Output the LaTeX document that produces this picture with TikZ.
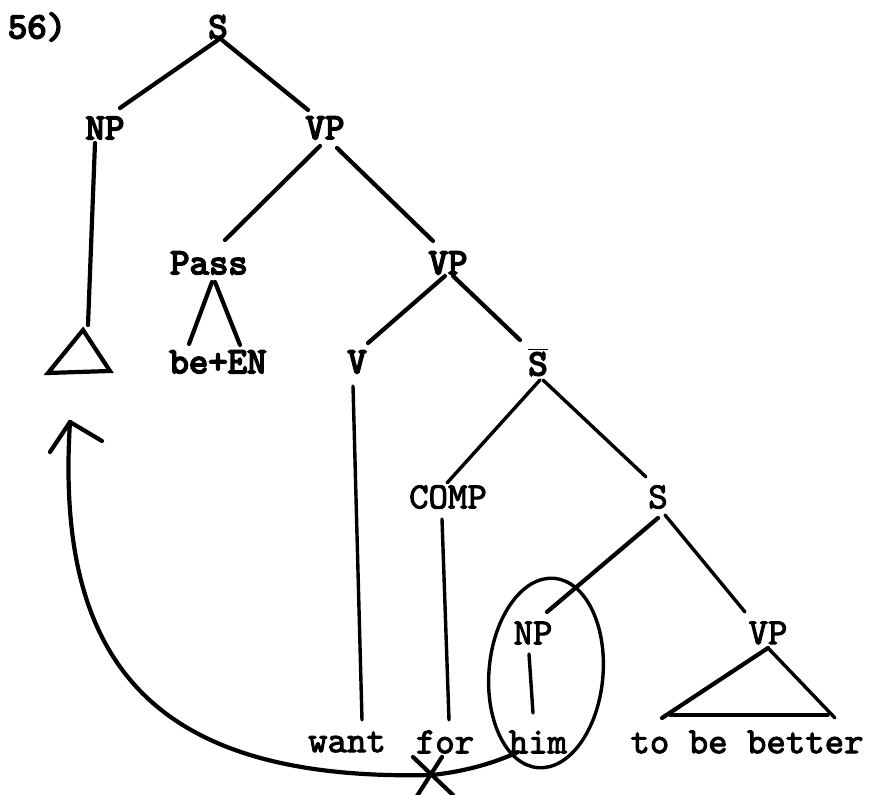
\documentclass[tikz,border=0pt]{standalone}
\usepackage{fontspec}
\newfontfamily\heavytt[AutoFakeBold=4.5]{lmmono10-regular.otf}
\newfontfamily\midtt[AutoFakeBold=2.5]{lmmono10-regular.otf}
\usetikzlibrary{calc,shapes.geometric}
\begin{document}
\begin{tikzpicture}[x=0.5pt,y=-0.5pt,
  lab/.style={inner sep=0pt,font=\heavytt\fontsize{18.5}{18.5}\selectfont\bfseries},
  lowlab/.style={inner sep=0pt,font=\midtt\fontsize{18.5}{18.5}\selectfont\bfseries},
  br/.style={line width=2.1pt,line cap=round},
  thin/.style={line width=1.7pt,line cap=round}]
\useasboundingbox (0,0) rectangle (869,795);
\node[lab] (num) at (37,27) {56)};
\node[lab] (S) at (218,27) {S};
\node[lab] (NP) at (105,128) {NP};
\node[lab] (VP) at (325,128) {VP};
\node[lab] (Pass) at (209,263) {Pass};
\node[lab] (VPb) at (448,263) {VP};
\node[lab] (beEN) at (218,362) {be+EN};
\node[lab] (V) at (357,362) {V};
\node[lab] (Sbar) at (538,362) {$\overline{\hbox{\heavytt\fontsize{18.5}{18.5}\selectfont\bfseries S}}$};
\node[lowlab] (COMP) at (448,497) {COMP};
\node[lowlab] (S2) at (658,497) {S};
\node[lowlab] (NP2) at (533,633) {NP};
\node[lowlab] (VP3) at (768,633) {VP};
\node[lowlab] (want) at (347,742) {want};
\node[lowlab] (for) at (445,742) {for};
\node[lowlab] (him) at (538,742) {him};
\node[lowlab] (tbb) at (747,742) {to be better};
\coordinate (tri) at (83,330);
% tree edges
\draw[br] ($(S)+(0,13)$) -- ($(NP)+(15,-20)$);
\draw[br] ($(S)+(4,13)$) -- ($(VP)+(-17,-18)$);
\draw[br] ($(NP)+(-10,15)$) -- ($(tri)+(5,-5)$);
\draw[br] (tri) -- ($(tri)+(-35,43)$) -- ($(tri)+(27,41)$) -- cycle;
\draw[br] ($(VP)+(-5,18)$) -- ($(Pass)+(16,-23)$);
\draw[br] ($(VP)+(12,20)$) -- ($(VPb)+(-15,-22)$);
\draw[br] ($(Pass)+(3,19)$) -- ($(beEN)+(-29,-18)$);
\draw[br] ($(Pass)+(6,19)$) -- ($(beEN)+(22,-17)$);
\draw[br] ($(VPb)+(-3,13)$) -- ($(V)+(11,-19)$);
\draw[br] ($(VPb)+(5,13)$) -- ($(Sbar)+(-18,-22)$);
\draw[thin] ($(V)+(-4,24)$) -- ($(want)+(15,-22)$);
\draw[thin] ($(Sbar)+(2,18)$) -- ($(COMP)+(-1,-14)$);
\draw[thin] ($(Sbar)+(5,18)$) -- ($(S2)+(-12,-20)$);
\draw[thin] ($(COMP)+(-6,22)$) -- ($(for)+(4,-22)$);
\draw[br] ($(S2)+(0,21)$) -- ($(NP2)+(14,-21)$);
\draw[thin] ($(S2)+(7,18)$) -- ($(VP3)+(-23,-21)$);
\draw[thin] ($(NP2)+(-4,21)$) -- ($(him)+(-5,-29)$);
\draw[br] ($(VP3)+(0,15)$) -- ($(tbb)+(-85,-24)$);
\draw[thin] ($(VP3)+(0,15)$) -- ($(tbb)+(88,-24)$);
\draw[thin] ($(tbb)+(-77,-27)$) -- ($(tbb)+(81,-27)$);
% circle around NP / him
\node[ellipse,draw,thin,minimum width=57pt,minimum height=95pt,inner sep=0pt,rotate=-5] (circ) at (546,673) {};
% movement arrow
\coordinate (xm) at (432,775);
\coordinate (tip) at (70,422);
\draw[br] ($(circ)+(-28,79)$) .. controls (490,765) and (460,772) .. (xm)
  .. controls (150,782) and (55,660) .. (tip);
\draw[br] (tip) -- ++(-20,30);
\draw[br] (tip) -- ++(32,19);
\draw[br] ($(xm)+(-19,-18)$) -- ($(xm)+(21,20)$);
\draw[br] ($(xm)+(10,-18)$) -- ($(xm)+(-15,21)$);
\end{tikzpicture}
\end{document}
